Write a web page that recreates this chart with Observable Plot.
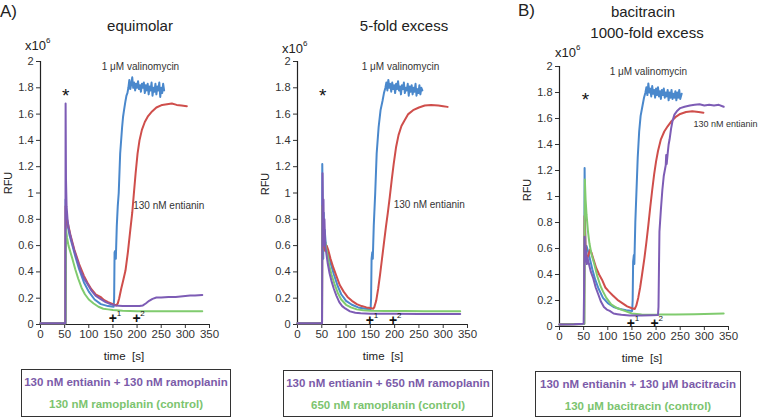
<!DOCTYPE html>
<html><head><meta charset="utf-8">
<script src="https://cdn.jsdelivr.net/npm/d3@7"></script>
<script src="https://cdn.jsdelivr.net/npm/@observablehq/plot@0.6"></script>
<style>
body{margin:0;background:#fff;}
#wrap{position:relative;width:760px;height:417px;overflow:hidden;font-family:"Liberation Sans",Arial,sans-serif;color:#222;background:#fff;}
.abs{position:absolute;white-space:pre;line-height:1;transform:translate(-50%,-50%);}
.absl{position:absolute;white-space:pre;line-height:1;transform:translate(0,-50%);}
.panel{position:absolute;top:0;height:360px;}
.lg{position:absolute;border:1.5px solid #333;box-sizing:border-box;font-weight:bold;font-size:11.5px;}
.lg div{position:absolute;left:0;right:0;text-align:center;line-height:1;transform:translateY(-50%);white-space:nowrap;}
.sup{font-size:8px;vertical-align:top;position:relative;top:-2px;}
</style></head><body><div id="wrap"></div>
<script>
// ---- ticks ----
const xTicks = [0,50,100,150,200,250,300,350];
const yTicks = [0,0.2,0.4,0.6,0.8,1,1.2,1.4,1.6,1.8,2];

// ---- Panel A (equimolar) : [time s, RFU x10^6] ----
const A_blue = [[0,0.01],[51.5,0.01],[52,0.95],[53,0.82],[56,0.76],[60,0.68],[66,0.6],[72,0.52],[80,0.42],[90,0.32],[100,0.25],[112,0.19],[125,0.155],[140,0.14],[151.5,0.135],[152.5,0.2],[153.4,0.55],[155,0.56],[156,0.5],[158,0.75],[160,0.9],[162,1.0],[165,1.3],[169,1.5],[171,1.58],[173,1.63],[176,1.7],[178,1.74],[180,1.76],[182,1.8],[184,1.86],[186,1.79],[188,1.83],[190,1.88],[192,1.8],[194,1.84],[196,1.78],[198,1.83],[200,1.8],[202,1.85],[204,1.79],[206,1.82],[208,1.77],[210,1.83],[212,1.8],[214,1.84],[216,1.76],[218,1.82],[220,1.78],[222,1.83],[224,1.75],[226,1.81],[228,1.78],[230,1.84],[232,1.74],[234,1.8],[236,1.77],[238,1.83],[240,1.75],[242,1.81],[244,1.78],[246,1.84],[248,1.73],[250,1.8],[252,1.76],[254,1.83],[256,1.78]];
const A_red = [[0,0.01],[51.5,0.01],[52,0.9],[53,0.84],[56,0.78],[62,0.68],[70,0.57],[80,0.46],[90,0.37],[97,0.32],[105,0.27],[114,0.23],[124,0.21],[132,0.185],[140,0.17],[150,0.155],[157,0.145],[160,0.16],[163,0.2],[167,0.27],[171,0.33],[176,0.41],[181,0.55],[186,0.72],[190,0.85],[193,0.98],[197,1.15],[201,1.3],[205,1.4],[210,1.48],[216,1.54],[222,1.58],[231,1.62],[240,1.65],[252,1.67],[262,1.675],[272,1.68],[282,1.67],[292,1.665],[303,1.66]];
const A_green = [[0,0.01],[52,0.01],[53,0.72],[55,0.66],[58,0.6],[62,0.55],[66,0.5],[72,0.42],[78,0.35],[85,0.28],[92,0.23],[100,0.19],[110,0.16],[120,0.135],[130,0.12],[140,0.115],[150,0.11],[170,0.105],[200,0.1],[250,0.1],[300,0.1],[335,0.1]];
const A_purple = [[0,0.01],[51.5,0.01],[52,1.68],[52.8,1.1],[54,0.9],[56,0.8],[58,0.74],[61,0.69],[65,0.63],[70,0.56],[76,0.49],[83,0.41],[90,0.35],[97,0.31],[105,0.26],[114,0.22],[124,0.195],[135,0.17],[145,0.155],[155,0.145],[170,0.14],[190,0.14],[205,0.14],[212,0.145],[218,0.16],[225,0.18],[232,0.195],[240,0.205],[250,0.205],[265,0.21],[280,0.21],[295,0.215],[310,0.22],[320,0.22],[335,0.225]];

// ---- Panel B (5-fold excess) ----
const B_blue = [[0,0.01],[50.5,0.01],[51,1.22],[52,0.9],[53,0.5],[54,0.85],[55,0.6],[56,0.72],[58,0.62],[62,0.55],[68,0.47],[75,0.38],[82,0.3],[90,0.23],[100,0.18],[112,0.15],[125,0.13],[140,0.12],[150.5,0.115],[151.5,0.2],[152.5,0.5],[154,0.55],[155,0.5],[157,0.75],[160,1.0],[163,1.3],[167,1.5],[171,1.63],[175,1.7],[178,1.76],[181,1.8],[183,1.84],[185,1.78],[187,1.86],[189,1.8],[191,1.83],[193,1.77],[195,1.84],[197,1.79],[199,1.82],[201,1.76],[203,1.83],[205,1.79],[207,1.85],[209,1.78],[211,1.81],[213,1.75],[215,1.82],[217,1.79],[219,1.84],[221,1.76],[223,1.8],[225,1.78],[227,1.83],[229,1.74],[231,1.81],[233,1.77],[235,1.82],[237,1.75],[239,1.8],[241,1.77],[243,1.83],[245,1.74],[247,1.79],[249,1.76],[251,1.82],[253,1.75],[255,1.8],[257,1.78]];
const B_red = [[0,0.01],[50.5,0.01],[51,0.9],[52,0.7],[54,0.6],[57,0.56],[60,0.6],[63,0.57],[68,0.5],[74,0.43],[80,0.37],[87,0.3],[95,0.25],[103,0.21],[112,0.18],[122,0.155],[132,0.14],[142,0.13],[150,0.125],[156,0.12],[158,0.13],[162,0.18],[166,0.27],[170,0.38],[174,0.5],[178,0.62],[182,0.74],[186,0.85],[190,0.97],[194,1.1],[198,1.22],[203,1.35],[208,1.44],[214,1.51],[220,1.55],[228,1.6],[238,1.63],[250,1.65],[262,1.665],[275,1.67],[290,1.665],[300,1.66],[309,1.655]];
const B_green = [[0,0.01],[50.5,0.01],[51,0.9],[53,0.75],[55,0.68],[58,0.6],[62,0.52],[66,0.44],[70,0.38],[76,0.31],[83,0.24],[90,0.19],[100,0.15],[110,0.13],[122,0.115],[135,0.108],[150,0.105],[180,0.103],[220,0.102],[260,0.1],[300,0.1],[335,0.1]];
const B_purple = [[0,0.01],[50.5,0.01],[51.5,1.15],[52.5,0.75],[53.5,0.95],[54.5,0.6],[55.5,0.8],[57,0.6],[59,0.55],[62,0.47],[66,0.39],[70,0.33],[75,0.27],[80,0.22],[86,0.17],[92,0.14],[99,0.12],[108,0.1],[119,0.09],[130,0.085],[150,0.082],[200,0.082],[250,0.08],[300,0.08],[335,0.08]];

// ---- Panel C (bacitracin, 1000-fold excess) ----
const C_blue = [[0,0.015],[51,0.02],[52,1.22],[53,0.8],[54,0.55],[56,0.62],[59,0.58],[63,0.52],[68,0.44],[74,0.36],[81,0.29],[90,0.22],[100,0.18],[112,0.15],[125,0.135],[138,0.125],[150.5,0.12],[151.5,0.2],[152.5,0.5],[154,0.55],[155,0.48],[157,0.8],[160,1.1],[162,1.3],[165,1.5],[168,1.62],[172,1.7],[175,1.76],[178,1.8],[180,1.84],[182,1.78],[184,1.87],[186,1.8],[188,1.83],[190,1.77],[192,1.85],[194,1.79],[196,1.82],[198,1.76],[200,1.83],[202,1.78],[204,1.84],[206,1.77],[208,1.81],[210,1.75],[212,1.82],[214,1.78],[216,1.83],[218,1.76],[220,1.8],[222,1.77],[224,1.82],[226,1.74],[228,1.8],[230,1.76],[232,1.82],[234,1.75],[236,1.79],[238,1.76],[240,1.81],[242,1.74],[244,1.8],[246,1.76],[248,1.82],[250,1.75],[253,1.79]];
const C_red = [[0,0.015],[51,0.02],[52,0.85],[54,0.6],[57,0.52],[60,0.55],[63,0.59],[66,0.57],[70,0.52],[76,0.45],[82,0.4],[88,0.36],[95,0.3],[102,0.27],[110,0.24],[120,0.205],[130,0.18],[140,0.155],[150,0.14],[156,0.135],[159,0.16],[163,0.22],[167,0.3],[171,0.4],[176,0.53],[180,0.65],[184,0.78],[188,0.92],[192,1.05],[196,1.17],[200,1.27],[204,1.35],[210,1.44],[217,1.5],[224,1.54],[232,1.58],[240,1.61],[250,1.635],[262,1.65],[275,1.655],[288,1.65],[298,1.645]];
const C_green = [[0,0.015],[51.5,0.02],[52.5,1.13],[54,0.98],[56,0.86],[59,0.73],[62,0.64],[66,0.56],[72,0.48],[78,0.39],[85,0.31],[90,0.27],[97,0.22],[107,0.17],[120,0.14],[135,0.12],[150,0.1],[170,0.092],[200,0.09],[210,0.092],[240,0.093],[280,0.095],[320,0.098],[340,0.1]];
const C_purple = [[0,0.015],[30,0.018],[50,0.022],[51,0.3],[52,0.69],[53.5,0.5],[55,0.58],[56.5,0.48],[58,0.53],[61,0.48],[65,0.42],[70,0.37],[75,0.3],[80,0.25],[86,0.19],[92,0.15],[98,0.13],[104,0.12],[112,0.1],[120,0.095],[128,0.09],[145,0.085],[170,0.085],[190,0.087],[204,0.088],[205,0.15],[206,0.45],[207,0.73],[210,0.9],[213,1.05],[216,1.16],[218,1.2],[220,1.24],[221,1.32],[222,1.25],[224,1.33],[226,1.4],[228,1.44],[231,1.52],[234,1.58],[238,1.63],[244,1.66],[250,1.68],[259,1.69],[270,1.7],[280,1.705],[290,1.71],[300,1.7],[310,1.705],[320,1.7],[330,1.705],[340,1.69]];

// ---- annotations (data coordinates) ----
const valinoLabel = "1 μM valinomycin";
const entianinLabel = "130 nM entianin";
const A_valinoPos = [207, 1.96], B_valinoPos = [212, 1.96], C_valinoPos = [184, 1.96];
const A_entPos = [192, 0.9], B_entPos = [198, 0.91], C_entPos = [277.5, 1.56];
const A_starPos = [52, 1.74], B_starPos = [52, 1.74], C_starPos = [54, 1.74];
const A_plus = [[150, 0.046, "1"], [199, 0.046, "2"]];
const B_plus = [[149, 0.03, "1"], [197, 0.03, "2"]];
const C_plus = [[148, 0.025, "1"], [197, 0.025, "2"]];

const COL = {blue:"#4a88cc", red:"#cf4e4b", green:"#80cb6e", purple:"#7d5cb5"};
const FONT = '"Liberation Sans", Arial, sans-serif';

function panel(series, valPos, entPos, starPos, plus, o) {
  const line = (d, c) => Plot.line(d, {x: p => p[0], y: p => p[1], stroke: c, strokeWidth: 2, strokeLinejoin: "round"});
  return Plot.plot({
    width: o.w, height: 360,
    marginLeft: 40, marginRight: o.mr, marginTop: o.mt, marginBottom: 360 - o.bottom,
    x: {domain: [0, 350]},
    y: {domain: [0, 2]},
    style: {fontFamily: FONT, color: "#333", background: "transparent", overflow: "visible"},
    marks: [
      Plot.axisY({ticks: yTicks, tickSize: 4, tickPadding: 3, fontSize: 11, label: null, tickFormat: d => String(+d.toFixed(1))}),
      Plot.axisX({ticks: xTicks, tickSize: 4, tickPadding: 1, fontSize: 11.5, label: null, tickFormat: d => String(d)}),
      Plot.ruleX([0], {y1: 0, y2: 2, stroke: "#222", strokeWidth: 1.2}),
      Plot.ruleY([0], {x1: 0, x2: 350, stroke: "#222", strokeWidth: 1.2}),
      line(series[0], COL.blue),
      line(series[1], COL.red),
      line(series[2], COL.green),
      line(series[3], COL.purple),
      Plot.text([valPos], {x: p => p[0], y: p => p[1], text: () => valinoLabel, fontSize: 10, fill: "#333"}),
      Plot.text([entPos], {x: p => p[0], y: p => p[1], text: () => entianinLabel, fontSize: o.entSize, fill: "#333", textAnchor: "start"}),
      Plot.text([starPos], {x: p => p[0], y: p => p[1], text: () => "*", fontSize: 19, fill: "#111"}),
      Plot.text(plus, {x: p => p[0], y: p => p[1], text: () => "+", fontSize: 14, fontWeight: "bold", fill: "#111"}),
      Plot.text(plus, {x: p => p[0], y: p => p[1], text: p => p[2], fontSize: 8, fill: "#111", dx: 6, dy: -5})
    ]
  });
}

const wrap = document.getElementById("wrap");
function place(el, left, w) {
  const d = document.createElement("div");
  d.className = "panel"; d.style.left = left + "px"; d.style.width = w + "px";
  d.appendChild(el); wrap.appendChild(d);
}
place(panel([A_blue, A_red, A_green, A_purple], A_valinoPos, A_entPos, A_starPos, A_plus, {w: 257, mr: 48, mt: 61, bottom: 324, entSize: 10}), 0, 257);
place(panel([B_blue, B_red, B_green, B_purple], B_valinoPos, B_entPos, B_starPos, B_plus, {w: 262, mr: 52, mt: 61, bottom: 324, entSize: 10}), 257, 262);
place(panel([C_blue, C_red, C_green, C_purple], C_valinoPos, C_entPos, C_starPos, C_plus, {w: 241, mr: 32, mt: 66, bottom: 326, entSize: 9}), 519, 241);

function txt(s, x, y, size, cls, extra) {
  const d = document.createElement("div");
  d.className = cls || "abs";
  d.style.left = x + "px"; d.style.top = y + "px"; d.style.fontSize = size + "px";
  if (extra) Object.assign(d.style, extra);
  d.innerHTML = s; wrap.appendChild(d);
}
// titles
txt("A)", 0, 11, 17, "absl");
txt("equimolar", 140, 25, 15);
txt("5-fold excess", 404, 25, 15);
txt("B)", 518, 10, 17, "absl");
txt("bacitracin", 643, 11, 15);
txt("1000-fold excess", 647, 32, 15);
// unit labels
txt('x10<span class="sup">6</span>', 25, 45, 13, "absl");
txt('x10<span class="sup">6</span>', 282, 48, 13, "absl");
txt('x10<span class="sup">6</span>', 555, 52, 13, "absl");
const rot = {transform: "translate(-50%,-50%) rotate(-90deg)"};
txt("RFU", 8, 183, 11, "abs", rot);
txt("RFU", 265, 184, 11, "abs", rot);
txt("RFU", 527, 190, 11, "abs", rot);
txt("time  [s]", 124, 357, 11.5);
txt("time  [s]", 383, 357, 11.5);
txt("time  [s]", 642, 359, 11.5);

// legend boxes
const legends = [
  {l: 21, t: 369, w: 210, a: "130 nM entianin + 130 nM ramoplanin", b: "130 nM ramoplanin (control)"},
  {l: 283, t: 370, w: 210, a: "130 nM entianin + 650 nM ramoplanin", b: "650 nM ramoplanin (control)"},
  {l: 535, t: 371, w: 206, a: "130 nM entianin + 130 μM bacitracin", b: "130 μM bacitracin (control)"}
];
for (const g of legends) {
  const box = document.createElement("div");
  box.className = "lg";
  Object.assign(box.style, {left: g.l + "px", top: g.t + "px", width: g.w + "px", height: (417 - g.t) + "px"});
  const r1 = document.createElement("div"); r1.style.top = "13px"; r1.style.color = "#7b5ba9"; r1.textContent = g.a;
  const r2 = document.createElement("div"); r2.style.top = "35px"; r2.style.color = "#7cc46f"; r2.textContent = g.b;
  box.appendChild(r1); box.appendChild(r2); wrap.appendChild(box);
}
</script></body></html>
